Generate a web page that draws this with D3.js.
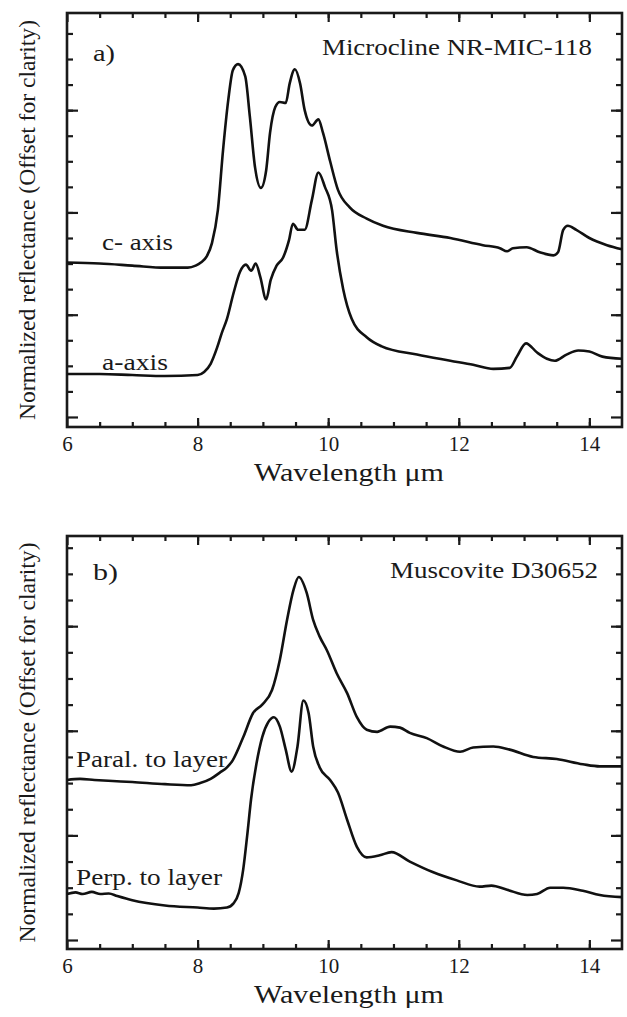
<!DOCTYPE html>
<html>
<head>
<meta charset="utf-8">
<script src="https://cdn.jsdelivr.net/npm/d3@7"></script>
<style>
  body { margin: 0; background: #fff; }
  svg text { font-family: "Liberation Serif", "Times New Roman", serif; fill: #1a1a1a; }
</style>
</head>
<body>
<div id="chart"></div>
<script>
// panel a) Microcline NR-MIC-118
var cAxisX = [6.0, 6.5, 7.0, 7.5, 7.85, 7.97, 8.05, 8.14, 8.22, 8.31, 8.39, 8.47, 8.54, 8.62, 8.73, 8.8, 8.88, 8.97, 9.05, 9.11, 9.19, 9.26, 9.35, 9.41, 9.49, 9.57, 9.64, 9.75, 9.85, 9.92, 10.03, 10.15, 10.33, 10.59, 10.84, 11.36, 11.87, 12.37, 12.63, 12.74, 12.83, 13.04, 13.24, 13.45, 13.52, 13.6, 13.67, 13.8, 14.0, 14.27, 14.5];
var cAxisY = [1.51, 1.50, 1.48, 1.46, 1.46, 1.48, 1.51, 1.57, 1.70, 2.02, 2.61, 3.10, 3.39, 3.45, 3.33, 2.94, 2.44, 2.24, 2.41, 2.78, 3.03, 3.08, 3.07, 3.26, 3.40, 3.26, 3.00, 2.85, 2.91, 2.78, 2.50, 2.22, 2.05, 1.94, 1.87, 1.80, 1.75, 1.68, 1.65, 1.62, 1.65, 1.66, 1.61, 1.58, 1.61, 1.83, 1.87, 1.83, 1.75, 1.68, 1.64];
var aAxisX = [6.0, 6.5, 7.0, 7.5, 8.0, 8.1, 8.2, 8.3, 8.37, 8.45, 8.55, 8.65, 8.74, 8.82, 8.89, 8.96, 9.05, 9.12, 9.21, 9.31, 9.40, 9.46, 9.54, 9.64, 9.75, 9.85, 9.95, 10.06, 10.13, 10.23, 10.36, 10.59, 10.82, 11.36, 11.87, 12.22, 12.53, 12.78, 12.89, 13.03, 13.2, 13.35, 13.47, 13.65, 13.83, 14.0, 14.2, 14.5];
var aAxisY = [0.42, 0.42, 0.41, 0.40, 0.41, 0.44, 0.52, 0.68, 0.82, 0.96, 1.21, 1.42, 1.49, 1.43, 1.50, 1.37, 1.15, 1.34, 1.48, 1.56, 1.73, 1.89, 1.83, 1.83, 2.12, 2.39, 2.25, 2.02, 1.63, 1.25, 0.96, 0.78, 0.69, 0.61, 0.55, 0.51, 0.47, 0.48, 0.59, 0.72, 0.63, 0.57, 0.55, 0.61, 0.65, 0.64, 0.59, 0.57];

// panel b) Muscovite D30652
var paralX = [6.0, 6.2, 6.42, 6.7, 7.0, 7.5, 7.9, 8.04, 8.2, 8.34, 8.45, 8.54, 8.7, 8.85, 8.99, 9.14, 9.26, 9.37, 9.47, 9.55, 9.67, 9.77, 9.87, 9.98, 10.13, 10.29, 10.44, 10.59, 10.75, 10.95, 11.1, 11.25, 11.51, 11.76, 12.02, 12.22, 12.53, 12.78, 13.14, 13.5, 13.9, 14.16, 14.5];
var paralY = [1.53, 1.54, 1.53, 1.52, 1.51, 1.49, 1.48, 1.50, 1.54, 1.60, 1.65, 1.72, 1.94, 2.17, 2.25, 2.39, 2.68, 3.06, 3.35, 3.47, 3.32, 3.06, 2.90, 2.77, 2.55, 2.36, 2.13, 2.01, 1.99, 2.04, 2.03, 1.98, 1.93, 1.85, 1.80, 1.84, 1.85, 1.82, 1.75, 1.73, 1.68, 1.66, 1.66];
var perpX = [6.0, 6.13, 6.24, 6.38, 6.51, 6.64, 6.77, 7.0, 7.5, 8.0, 8.25, 8.45, 8.55, 8.63, 8.7, 8.76, 8.82, 8.9, 8.99, 9.08, 9.17, 9.26, 9.35, 9.44, 9.53, 9.62, 9.7, 9.77, 9.87, 10.03, 10.15, 10.29, 10.44, 10.59, 10.79, 10.97, 11.25, 11.6, 11.97, 12.32, 12.5, 12.74, 13.05, 13.2, 13.4, 13.6, 13.9, 14.16, 14.5];
var perpY = [0.44, 0.455, 0.44, 0.46, 0.44, 0.445, 0.42, 0.38, 0.33, 0.31, 0.30, 0.31, 0.35, 0.45, 0.68, 1.00, 1.35, 1.68, 1.94, 2.08, 2.13, 2.04, 1.82, 1.61, 1.85, 2.29, 2.17, 1.85, 1.65, 1.53, 1.41, 1.15, 0.89, 0.79, 0.81, 0.84, 0.75, 0.65, 0.57, 0.51, 0.52, 0.48, 0.43, 0.44, 0.50, 0.50, 0.47, 0.43, 0.41];

var xTickLabels = [6, 8, 10, 12, 14];
var xMinorTicks = d3.range(6.5, 14.5, 0.5);
var yMajorTicks = [0, 1, 2, 3];
var yMinorTicks = d3.range(0.25, 3.9, 0.25);

var width = 627, height = 1017;
var left = 67, right = 622;

var svg = d3.select("#chart").append("svg").attr("width", width).attr("height", height);

function zip(xs, ys) {
    return xs.map(function(d, i) { return {x: d, y: ys[i]}; });
}

function drawPanel(p) {
    var x = d3.scaleLinear().domain([6, 14.5]).range([left, right]);
    var y = d3.scaleLinear().domain(p.ydomain).range([p.bottom, p.top]);
    var g = svg.append("g");
    var h = p.bottom - p.top, w = right - left;

    // inward ticks on all four sides
    var axes = [
        [d3.axisBottom(x).tickValues(xTickLabels).tickSizeInner(-9).tickPadding(9).tickFormat(d3.format("d")), "translate(0," + p.bottom + ")"],
        [d3.axisBottom(x).tickValues(xMinorTicks).tickSizeInner(-5).tickFormat(""), "translate(0," + p.bottom + ")"],
        [d3.axisTop(x).tickValues(xTickLabels).tickSizeInner(-9).tickFormat(""), "translate(0," + p.top + ")"],
        [d3.axisTop(x).tickValues(xMinorTicks).tickSizeInner(-5).tickFormat(""), "translate(0," + p.top + ")"],
        [d3.axisLeft(y).tickValues(yMajorTicks).tickSizeInner(-11).tickFormat(""), "translate(" + left + ",0)"],
        [d3.axisLeft(y).tickValues(yMinorTicks).tickSizeInner(-6).tickFormat(""), "translate(" + left + ",0)"],
        [d3.axisRight(y).tickValues(yMajorTicks).tickSizeInner(-11).tickFormat(""), "translate(" + right + ",0)"],
        [d3.axisRight(y).tickValues(yMinorTicks).tickSizeInner(-6).tickFormat(""), "translate(" + right + ",0)"]
    ];
    axes.forEach(function(a) {
        var ax = g.append("g").attr("transform", a[1]).call(a[0].tickSizeOuter(0));
        ax.select(".domain").remove();
        ax.selectAll("line").attr("stroke", "#1a1a1a").attr("stroke-width", 2.2);
        ax.selectAll("text").style("font-size", "21px")
            .style("font-family", "'Liberation Serif', serif").attr("fill", "#1a1a1a");
    });

    g.append("rect").attr("x", left).attr("y", p.top).attr("width", w).attr("height", h)
        .attr("fill", "none").attr("stroke", "#1a1a1a").attr("stroke-width", 2.6);

    var line = d3.line().x(function(d) { return x(d.x); }).y(function(d) { return y(d.y); })
        .curve(d3.curveMonotoneX);
    p.series.forEach(function(s) {
        g.append("path").datum(s).attr("d", line)
            .attr("fill", "none").attr("stroke", "#111").attr("stroke-width", 2.6)
            .attr("stroke-linejoin", "round");
    });

    p.labels.forEach(function(l) {
        g.append("text").attr("x", l[1]).attr("y", l[2]).text(l[0])
            .style("font-size", l[4] + "px")
            .attr("textLength", l[3]).attr("lengthAdjust", "spacingAndGlyphs");
    });

    g.append("text").attr("x", 349).attr("y", p.bottom + 54).attr("text-anchor", "middle")
        .style("font-size", "25px").attr("textLength", 190).attr("lengthAdjust", "spacingAndGlyphs")
        .text("Wavelength \u03bcm");

    g.append("text").attr("transform", "translate(35," + (p.top + p.bottom) / 2 + ") rotate(-90)")
        .attr("text-anchor", "middle").style("font-size", "23px")
        .attr("textLength", 400).attr("lengthAdjust", "spacingAndGlyphs")
        .text("Normalized reflectance (Offset for clarity)");
}

drawPanel({
    top: 13, bottom: 427, ydomain: [-0.098, 3.95],
    series: [zip(cAxisX, cAxisY), zip(aAxisX, aAxisY)],
    labels: [
        ["a)", 93, 61, 22, 24],
        ["Microcline NR-MIC-118", 322, 55, 270, 23],
        ["c- axis", 102, 250, 71, 23],
        ["a-axis", 102, 370, 66, 23]
    ]
});

drawPanel({
    top: 536, bottom: 949, ydomain: [-0.086, 3.862],
    series: [zip(paralX, paralY), zip(perpX, perpY)],
    labels: [
        ["b)", 93, 580, 25, 24],
        ["Muscovite D30652", 390, 578, 208, 23],
        ["Paral. to layer", 76, 767, 151, 23],
        ["Perp. to layer", 76, 885, 146, 23]
    ]
});
</script>
</body>
</html>
